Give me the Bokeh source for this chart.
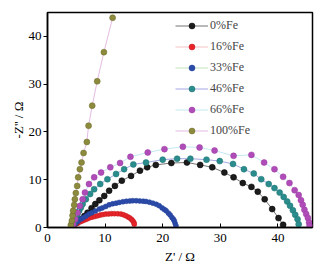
from bokeh.plotting import figure
from bokeh.models import Range1d, Legend, LegendItem
from bokeh.embed import file_html
from bokeh.resources import INLINE

# ---- data ----
labels = ["0%Fe", "16%Fe", "33%Fe", "46%Fe", "66%Fe", "100%Fe"]

fe0_x = [4.5, 5.1, 5.8, 6.4, 6.95, 7.65, 8.3, 9.0, 9.85, 10.7, 11.7, 12.9, 14.5, 16.05, 17.3, 18.8,
         21.5, 24.2, 26.5, 28.6, 30.7, 32.3, 33.9, 35.4, 36.5, 37.7, 39.0, 40.1, 40.9]
fe0_y = [0.4, 1.0, 1.75, 2.4, 3.1, 4.05, 4.9, 5.7, 6.6, 7.7, 8.7, 9.8, 10.8, 11.9, 12.6, 13.1,
         13.5, 13.6, 13.1, 12.6, 11.5, 10.5, 9.3, 8.5, 7.5, 5.9, 3.85, 1.97, 0.57]

fe16_x = [4.5, 4.9, 5.3, 5.7, 6.1, 6.5, 6.85, 7.2, 7.7, 8.2, 8.7, 9.15, 9.6, 10.1, 10.6, 11.1,
          11.6, 12.2, 12.75, 13.2, 13.6, 14.0, 14.3, 14.6, 14.8, 15.0, 15.06]
fe16_y = [0.3, 0.7, 0.95, 1.2, 1.4, 1.6, 1.8, 1.97, 2.15, 2.3, 2.45, 2.6, 2.7, 2.8, 2.85, 2.9,
          2.9, 2.87, 2.8, 2.65, 2.45, 2.2, 1.97, 1.7, 1.4, 1.05, 0.7]

fe33_x = [4.4, 4.9, 5.3, 5.8, 6.2, 6.7, 7.2, 7.7, 8.3, 9.0, 9.5, 10.1, 10.7, 11.3, 11.9, 12.45,
          13.1, 13.7, 14.3, 14.8, 15.4, 16.0, 16.6, 17.1, 17.7, 18.3, 18.9, 19.4, 19.9, 20.3,
          20.6, 21.0, 21.3, 21.6, 21.85, 22.0, 22.15, 22.3]
fe33_y = [0.5, 0.85, 1.3, 1.75, 2.05, 2.4, 2.8, 3.1, 3.45, 3.85, 4.1, 4.4, 4.75, 4.95, 5.1, 5.25,
          5.4, 5.5, 5.55, 5.6, 5.6, 5.55, 5.5, 5.45, 5.3, 5.1, 4.85, 4.55, 4.1, 3.75,
          3.5, 3.0, 2.6, 2.1, 1.75, 1.4, 0.9, 0.35]

fe46_x = [4.4, 4.6, 4.9, 5.2, 5.5, 5.8, 6.1, 6.66, 7.4, 8.1, 9.15, 10.4, 11.9, 13.3, 14.9, 17.1,
          20.0, 22.5, 24.8, 27.6, 29.9, 32.2, 34.1, 35.8, 37.1, 38.4, 39.4, 40.3, 41.0, 41.6,
          42.1, 42.6, 43.0, 43.4, 43.6]
fe46_y = [0.5, 1.05, 2.1, 2.8, 3.5, 4.2, 4.9, 5.9, 7.0, 8.0, 9.1, 10.1, 11.2, 12.2, 13.2, 13.6,
          14.2, 14.4, 14.4, 14.2, 13.9, 13.3, 12.2, 11.3, 10.1, 9.1, 8.25, 7.3, 6.4, 5.45,
          4.55, 3.6, 2.65, 1.75, 0.7]

fe66_x = [4.45, 4.8, 5.2, 5.6, 6.1, 6.5, 7.2, 8.1, 9.3, 10.9, 12.6, 14.4, 17.4, 20.3, 23.5, 26.4,
          29.0, 32.3, 35.4, 37.6, 39.4, 40.9, 42.0, 42.9, 43.6, 44.0, 44.3, 44.6, 44.9, 45.2,
          45.4, 45.5]
fe66_y = [0.7, 1.75, 3.1, 4.5, 5.9, 7.3, 9.1, 10.5, 11.5, 12.6, 13.5, 14.8, 15.7, 16.4, 16.9, 16.75,
          16.1, 15.0, 15.2, 13.6, 12.2, 10.6, 9.3, 7.8, 6.8, 5.7, 4.75, 3.7, 2.8, 2.0,
          1.05, 0.35]

fe100_x = [4.05, 4.23, 4.35, 4.45, 4.63, 4.75, 4.92, 5.15, 5.32, 5.62, 5.91, 6.26, 6.83, 7.13,
           7.76, 8.63, 9.79, 11.3]
fe100_y = [0.5, 1.4, 2.5, 3.5, 4.7, 5.9, 7.2, 8.7, 10.5, 12.2, 13.6, 15.6, 17.9, 21.3,
           25.5, 30.6, 36.7, 43.9]

x_ticks = [0, 10, 20, 30, 40]
y_ticks = [0, 10, 20, 30, 40]

series_x = [fe0_x, fe16_x, fe33_x, fe46_x, fe66_x, fe100_x]
series_y = [fe0_y, fe16_y, fe33_y, fe46_y, fe66_y, fe100_y]

marker_fill = ["#1c1c1c", "#e8242a", "#2c4aa8", "#2a8c8c", "#b04cb8", "#8c8a3c"]
marker_line = ["#000000", "#c01c20", "#22409a", "#1e7474", "#9a3ca2", "#6c6a2c"]
line_colors = ["#505050", "#f4b4b4", "#b4dcaa", "#8a90d8", "#b4e2ec", "#dcaadc"]
marker_size = [6, 5, 5, 6, 6, 6]

FONT = "Liberation Serif"

p = figure(width=324, height=270, output_backend="svg", toolbar_location=None,
           x_range=Range1d(0, 46), y_range=Range1d(0, 45),
           min_border_left=47, min_border_right=12, min_border_top=12, min_border_bottom=43)
p.background_fill_color = "white"
p.border_fill_color = "white"
p.grid.visible = False
p.outline_line_color = "black"
p.outline_line_width = 1.5
p.outline_line_alpha = 1

items = []
for i in range(6):
    lr = p.line(series_x[i], series_y[i], line_color=line_colors[i], line_width=0.8)
    sr = p.scatter(series_x[i], series_y[i], size=marker_size[i], fill_color=marker_fill[i],
                   line_color=marker_line[i], line_width=0.5)
    items.append(LegendItem(label=labels[i], renderers=[lr, sr]))

legend = Legend(items=items, location=(128, 87), border_line_color=None,
                background_fill_alpha=0, label_text_font=FONT, label_text_font_size="12px",
                glyph_width=33, glyph_height=15, label_height=20, label_standoff=2,
                spacing=1, padding=2, margin=0)
p.add_layout(legend)

xa = p.xaxis[0]
xa.ticker = x_ticks
xa.ticker.num_minor_ticks = 2
xa.axis_label = "Z' / Ω"
ya = p.yaxis[0]
ya.ticker = y_ticks
ya.ticker.num_minor_ticks = 2
ya.axis_label = "-Z'' / Ω"

for ax in (xa, ya):
    ax.axis_line_width = 1.5
    ax.axis_line_color = "black"
    ax.major_tick_line_color = "black"
    ax.minor_tick_line_color = "black"
    ax.major_label_text_font = FONT
    ax.major_label_text_font_size = "13px"
    ax.major_label_text_color = "black"
    ax.axis_label_text_font = FONT
    ax.axis_label_text_font_size = "13px"
    ax.axis_label_text_font_style = "normal"
    ax.axis_label_text_color = "black"

xa.major_tick_in = 4
xa.major_tick_out = 0
xa.minor_tick_in = 2
xa.minor_tick_out = 0
xa.major_label_standoff = 6
xa.axis_label_standoff = 4

ya.major_tick_in = 0
ya.major_tick_out = 4
ya.minor_tick_in = 0
ya.minor_tick_out = 2
ya.major_label_standoff = 2
ya.axis_label_standoff = 0

open("out.html", "w").write(file_html(p, INLINE))
